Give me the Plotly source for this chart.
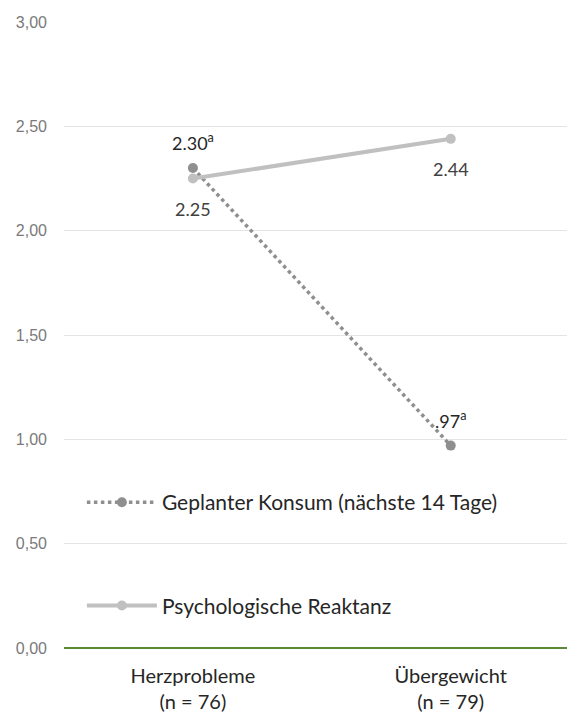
import plotly.graph_objects as go

categories = ["Herzprobleme<br>(n = 76)", "Übergewicht<br>(n = 79)"]
konsum = [2.30, 0.97]
konsum_labels = ["2.30<sup>a</sup>", ".97<sup>a</sup>"]
reaktanz = [2.25, 2.44]
reaktanz_labels = ["2.25", "2.44"]
y_ticks = [0, 0.5, 1.0, 1.5, 2.0, 2.5, 3.0]

x = list(range(len(categories)))
FONT = "Lato, 'Open Sans', sans-serif"

fig = go.Figure()
fig.add_trace(go.Scatter(
    x=x, y=konsum, name="Geplanter Konsum (nächste 14 Tage)",
    mode="lines+markers",
    line=dict(color="#8f8f8f", width=3.5, dash="dot"),
    marker=dict(size=10, color="#8f8f8f"),
    legendgroup="a",
))
fig.add_trace(go.Scatter(
    x=x, y=reaktanz, name="Psychologische Reaktanz",
    mode="lines+markers",
    line=dict(color="#c0c0c0", width=4),
    marker=dict(size=10, color="#c0c0c0"),
    legendgroup="b",
))

for xi, yi, t in zip(x, konsum, konsum_labels):
    fig.add_annotation(x=xi, y=yi, text=t, showarrow=False, yshift=26,
                       font=dict(size=18, color="#262626", family=FONT))
for xi, yi, t in zip(x, reaktanz, reaktanz_labels):
    fig.add_annotation(x=xi, y=yi, text=t, showarrow=False, yshift=-30,
                       font=dict(size=18, color="#404040", family=FONT))

fig.update_layout(
    width=567, height=707,
    margin=dict(l=56, r=0, t=14, b=67),
    plot_bgcolor="white", paper_bgcolor="white",
    separators=",.",
    font=dict(family=FONT, color="#262626"),
    showlegend=True,
    legend=dict(x=0.035, y=0.265, xanchor="left", yanchor="top",
                font=dict(size=21, color="#262626", family=FONT),
                tracegroupgap=73, bgcolor="rgba(0,0,0,0)", itemwidth=70),
    xaxis=dict(tickmode="array", tickvals=x, ticktext=categories,
               range=[-0.5, 1.482], showgrid=False, zeroline=False,
               showline=False, ticks="", ticklabelstandoff=14,
               tickfont=dict(size=20, color="#262626", family=FONT)),
    yaxis=dict(range=[0, 3], tickvals=y_ticks, tickformat=".2f",
               showgrid=True, gridcolor="#e4e4e4", gridwidth=1,
               zeroline=True, zerolinecolor="#5a8a36", zerolinewidth=2,
               showline=False, ticks="", ticklabelstandoff=16,
               tickfont=dict(size=16, color="#7a7a7a", family="Liberation Sans, Arial")),
)

fig.write_html("out.html")
